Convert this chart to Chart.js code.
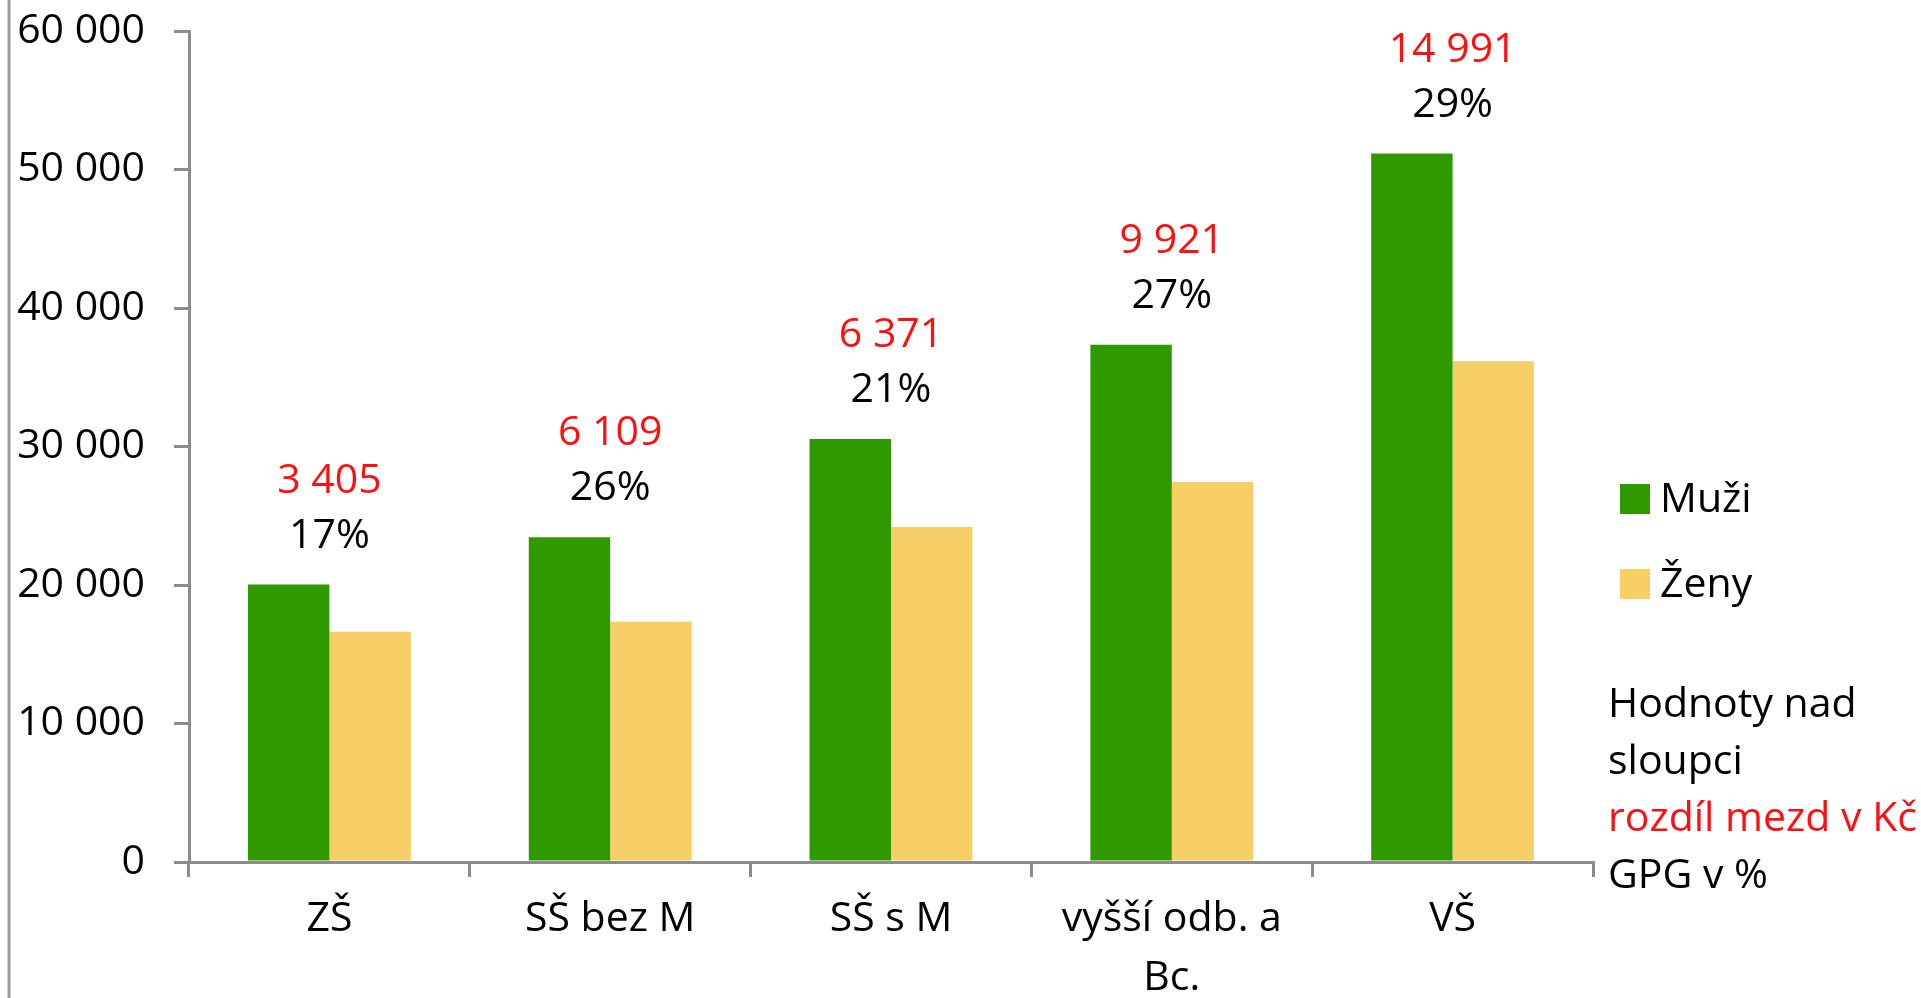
<!DOCTYPE html>
<html>
<head>
<meta charset="utf-8">
<script src="https://cdn.jsdelivr.net/npm/chart.js@4.4.1/dist/chart.umd.min.js"></script>
<style>
  html, body { margin: 0; padding: 0; background: #fff; }
  canvas { display: block; }
</style>
</head>
<body>
<canvas id="gpgChart" width="1921" height="998"></canvas>
<script>
// Data
const categories = ['ZŠ', 'SŠ bez M', 'SŠ s M', ['vyšší odb. a', 'Bc.'], 'VŠ'];
const muzi = [20030, 23450, 30550, 37350, 51150];
const zeny = [16625, 17340, 24180, 27430, 36160];
const rozdilKc = ['3 405', '6 109', '6 371', '9 921', '14 991'];
const gpgPct = [17, 26, 21, 27, 29];
const yTickLabels = ['0', '10 000', '20 000', '30 000', '40 000', '50 000', '60 000'];
const noteLines = ['Hodnoty nad', 'sloupci', 'rozdíl mezd v Kč', 'GPG v %'];

const GREEN = '#2e9a00';
const YELLOW = '#f7cf66';
const RED = '#ff1010';
const AXIS = '#8c8c8c';
const FONT = "'Open Sans', sans-serif";

Chart.defaults.font.family = FONT;
Chart.defaults.font.size = 41;
Chart.defaults.color = '#000';

// labels over bars, legend and the note on the right
const extras = {
  id: 'extras',
  beforeDraw(chart) {
    const ctx = chart.ctx;
    ctx.save();
    ctx.strokeStyle = '#9a9a9a';
    ctx.lineWidth = 3;
    ctx.beginPath();
    ctx.moveTo(9, 0);
    ctx.lineTo(9, chart.height);
    ctx.stroke();
    ctx.restore();
  },
  afterDraw(chart) {
    const ctx = chart.ctx;
    const xs = chart.scales.x;
    const bars = chart.getDatasetMeta(0).data;
    ctx.save();
    ctx.font = '41px ' + FONT;
    ctx.textAlign = 'center';
    ctx.textBaseline = 'alphabetic';
    bars.forEach((bar, i) => {
      const cx = xs.getPixelForValue(i);
      ctx.fillStyle = RED;
      ctx.fillText(rozdilKc[i], cx, bar.y - 92);
      ctx.fillStyle = '#000';
      ctx.fillText(gpgPct[i] + '%', cx, bar.y - 37);
    });

    // legend
    const lx = chart.chartArea.right + 27;
    ctx.textAlign = 'left';
    chart.data.datasets.forEach((ds, i) => {
      const cy = 499 + i * 85;
      ctx.fillStyle = ds.backgroundColor;
      ctx.fillRect(lx, cy - 15, 30, 30);
      ctx.fillStyle = '#000';
      ctx.fillText(ds.label, lx + 40, cy + 13);
    });

    // note
    noteLines.forEach((t, i) => {
      ctx.fillStyle = i === 2 ? RED : '#000';
      ctx.fillText(t, lx - 12, 717 + i * 57);
    });
    ctx.restore();
  }
};

new Chart(document.getElementById('gpgChart'), {
  type: 'bar',
  data: {
    labels: categories,
    datasets: [
      { label: 'Muži', data: muzi, backgroundColor: GREEN, borderWidth: 0 },
      { label: 'Ženy', data: zeny, backgroundColor: YELLOW, borderWidth: 0 }
    ]
  },
  options: {
    responsive: false,
    animation: false,
    layout: { padding: { top: 31, right: 328, left: 0, bottom: 0 } },
    datasets: { bar: { categoryPercentage: 0.58, barPercentage: 1.0 } },
    plugins: { legend: { display: false }, tooltip: { enabled: false } },
    scales: {
      x: {
        grid: { offset: true, drawOnChartArea: false, tickLength: 15, color: AXIS, lineWidth: 3 },
        border: { color: AXIS, width: 3 },
        ticks: { maxRotation: 0, autoSkip: false, padding: 13, font: { size: 41, lineHeight: 1.44 } },
        afterFit(scale) { scale.height = 136; }
      },
      y: {
        min: 0,
        max: 60000,
        grid: { drawOnChartArea: false, tickLength: 15, color: AXIS, lineWidth: 3 },
        border: { color: AXIS, width: 3 },
        ticks: {
          stepSize: 10000,
          padding: 29,
          callback: (v, i) => yTickLabels[i]
        },
        afterFit(scale) {
          scale.width = 189;
          scale.paddingTop = 0;
          scale.paddingBottom = 0;
        }
      }
    }
  },
  plugins: [extras]
});
</script>
</body>
</html>
